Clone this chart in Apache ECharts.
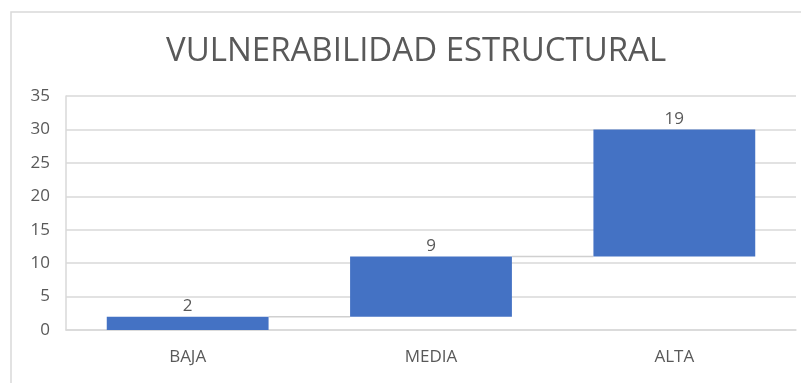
<!DOCTYPE html>
<html><head><meta charset="utf-8">
<script src="https://cdn.jsdelivr.net/npm/echarts@6/dist/echarts.min.js"></script>
<style>html,body{margin:0;padding:0;background:#fff}#c{width:801px;height:383px}</style>
</head><body><div id="c"></div>
<script>
const categories = ['BAJA', 'MEDIA', 'ALTA'];
const increments = [2, 9, 19];
const yTicks = [0, 5, 10, 15, 20, 25, 30, 35];
const titleText = 'VULNERABILIDAD ESTRUCTURAL';

const bases = [];
let run = 0;
increments.forEach(v => { bases.push(run); run += v; });
const tops = increments.map((v, i) => bases[i] + v);

const chart = echarts.init(document.getElementById('c'));
const barFrac = 0.665;
chart.setOption({
  animation: false,
  title: {
    text: titleText, left: 161, top: 30,
    textStyle: { fontFamily: 'Open Sans, sans-serif', fontWeight: 'normal', fontSize: 33, color: '#595959' }
  },
  graphic: [{
    type: 'polyline', silent: true,
    shape: { points: [[11, 383], [11, 12], [801, 12]] },
    style: { stroke: '#d9d9d9', lineWidth: 1.5, fill: null }
  }],
  grid: { left: 66, right: 5, top: 96, bottom: 53 },
  xAxis: {
    type: 'category', data: categories,
    axisLine: { lineStyle: { color: '#d9d9d9', width: 1.5 } },
    axisTick: { show: false },
    axisLabel: { color: '#595959', fontSize: 17, margin: 19, fontFamily: 'Open Sans, sans-serif' }
  },
  yAxis: {
    type: 'value', min: yTicks[0], max: yTicks[yTicks.length - 1], interval: 5,
    axisLine: { show: true, lineStyle: { color: '#d9d9d9', width: 1.5 } },
    axisTick: { show: false },
    splitLine: { lineStyle: { color: '#d9d9d9', width: 1.5 } },
    axisLabel: { color: '#595959', fontSize: 17, margin: 16, fontFamily: 'Open Sans, sans-serif' }
  },
  series: [
    {
      type: 'bar', stack: 'w', data: bases, barWidth: (barFrac * 100) + '%',
      itemStyle: { color: 'transparent' }, silent: true
    },
    {
      type: 'bar', stack: 'w', data: increments, barWidth: (barFrac * 100) + '%',
      itemStyle: { color: '#4472c4' },
      label: { show: true, position: 'top', color: '#595959', fontSize: 17, distance: 2, fontFamily: 'Open Sans, sans-serif' }
    },
    {
      type: 'custom', silent: true, z: 1,
      data: tops.slice(0, -1).map((t, i) => [i, t]),
      renderItem: function (params, api) {
        const i = api.value(0), lvl = api.value(1);
        const band = api.size([1, 0])[0];
        const p1 = api.coord([i, lvl]);
        const p2 = api.coord([i + 1, lvl]);
        const hw = band * barFrac / 2;
        return {
          type: 'line',
          shape: { x1: p1[0] + hw, y1: p1[1], x2: p2[0] - hw, y2: p2[1] },
          style: { stroke: '#d0d0d0', lineWidth: 1.5 }
        };
      }
    }
  ]
});
</script></body></html>
